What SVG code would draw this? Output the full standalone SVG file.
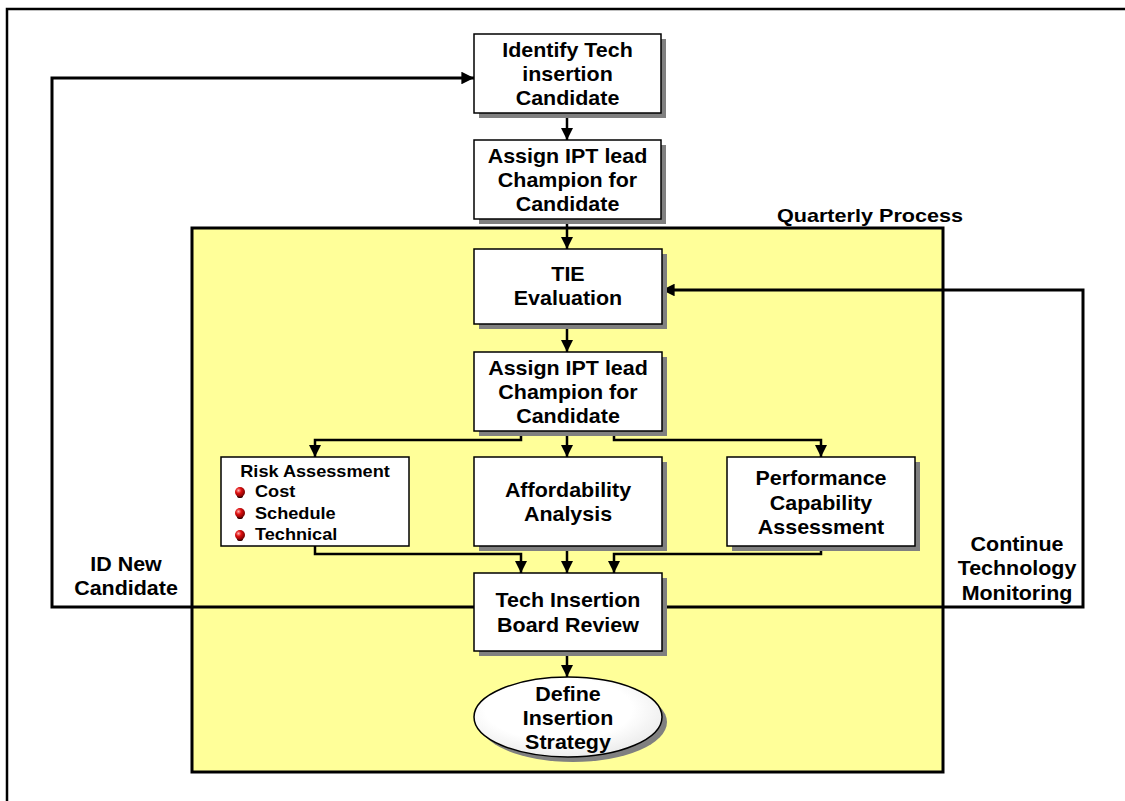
<svg xmlns="http://www.w3.org/2000/svg" width="1125" height="801" viewBox="0 0 1125 801">
<defs>
  <style>
    .box{fill:#fff;stroke:#000;stroke-width:1.5}
    .shadow{fill:#808080}
    .t{font-family:"Liberation Sans",Arial,sans-serif;font-weight:bold;font-size:19.5px;fill:#000;text-anchor:middle}
    .ts{font-family:"Liberation Sans",Arial,sans-serif;font-weight:bold;font-size:16.5px;fill:#000}
    .conn{fill:none;stroke:#000;stroke-width:2.5}
    .loop{fill:none;stroke:#000;stroke-width:3}
  </style>
  <marker id="ah" viewBox="0 0 10 10" refX="10" refY="5" markerWidth="5" markerHeight="5" markerUnits="strokeWidth" orient="auto">
    <path d="M0,0 L10,5 L0,10 Z" fill="#000"/>
  </marker>
  <marker id="ah2" viewBox="0 0 10 10" refX="10" refY="5" markerWidth="4.2" markerHeight="4.2" markerUnits="strokeWidth" orient="auto">
    <path d="M0,0 L10,5 L0,10 Z" fill="#000"/>
  </marker>
  <radialGradient id="ball" cx="0.35" cy="0.35" r="0.7">
    <stop offset="0" stop-color="#ffb0b0"/>
    <stop offset="0.4" stop-color="#e01010"/>
    <stop offset="1" stop-color="#700000"/>
  </radialGradient>
  <radialGradient id="ell" cx="0.45" cy="0.4" r="0.65">
    <stop offset="0.6" stop-color="#ffffff"/>
    <stop offset="1" stop-color="#e8e8e8"/>
  </radialGradient>
  <g id="bullet">
    <ellipse cx="0" cy="4" rx="3" ry="2" fill="#300"/>
    <circle cx="0" cy="0" r="5" fill="url(#ball)"/>
  </g>
</defs>

<rect width="1125" height="801" fill="#fff"/>
<!-- outer frame -->
<path d="M7,801 V9 H1125" fill="none" stroke="#000" stroke-width="2.5"/>

<!-- Quarterly process container -->
<g id="quarterly">
  <rect x="192" y="228" width="751" height="544" fill="#FFFF99" stroke="#000" stroke-width="3"/>
  <g transform="translate(870,0) scale(1.2,1)"><text class="t" style="font-size:18px" x="0" y="222">Quarterly Process</text></g>
</g>

<!-- connectors -->
<g id="connectors">
  <line class="conn" x1="567" y1="113" x2="567" y2="140" marker-end="url(#ah)"/>
  <line class="conn" x1="567" y1="219" x2="567" y2="249" marker-end="url(#ah)"/>
  <line class="conn" x1="567" y1="324" x2="567" y2="352" marker-end="url(#ah)"/>
  <line class="conn" x1="567" y1="431" x2="567" y2="457" marker-end="url(#ah)"/>
  <polyline class="conn" points="521,431 521,440 315,440 315,457" marker-end="url(#ah)"/>
  <polyline class="conn" points="614,431 614,440 821,440 821,457" marker-end="url(#ah)"/>
  <line class="conn" x1="567" y1="546" x2="567" y2="573" marker-end="url(#ah)"/>
  <polyline class="conn" points="315,546 315,554 521,554 521,573" marker-end="url(#ah)"/>
  <polyline class="conn" points="821,546 821,554 614,554 614,573" marker-end="url(#ah)"/>
  <line class="conn" x1="567" y1="651" x2="567" y2="677" marker-end="url(#ah)"/>
  <polyline class="loop" points="474,607 52,607 52,78 474,78" marker-end="url(#ah2)"/>
  <polyline class="loop" points="662,607 1083,607 1083,290 662,290" marker-end="url(#ah2)"/>
</g>

<!-- loop labels -->
<g id="label-new">
  <g transform="translate(126,0) scale(1.1,1)">
    <text class="t" x="0" y="571">ID New</text>
    <text class="t" x="0" y="595">Candidate</text>
  </g>
</g>
<g id="label-continue">
  <g transform="translate(1017,0) scale(1.1,1)">
    <text class="t" x="0" y="551">Continue</text>
    <text class="t" x="0" y="575">Technology</text>
    <text class="t" x="0" y="600">Monitoring</text>
  </g>
</g>

<!-- nodes -->
<g id="identify">
  <rect class="shadow" x="479" y="39" width="187" height="79"/>
  <rect class="box" x="474" y="34" width="187" height="79"/>
  <g transform="translate(567.5,0) scale(1.1,1)">
    <text class="t" x="0" y="57">Identify Tech</text>
    <text class="t" x="0" y="81">insertion</text>
    <text class="t" x="0" y="105">Candidate</text>
  </g>
</g>

<g id="assign1">
  <rect class="shadow" x="479" y="145" width="187" height="79"/>
  <rect class="box" x="474" y="140" width="187" height="79"/>
  <g transform="translate(567.5,0) scale(1.1,1)">
    <text class="t" x="0" y="163">Assign IPT lead</text>
    <text class="t" x="0" y="187">Champion for</text>
    <text class="t" x="0" y="211">Candidate</text>
  </g>
</g>

<g id="tie">
  <rect class="shadow" x="479" y="254" width="188" height="75"/>
  <rect class="box" x="474" y="249" width="188" height="75"/>
  <g transform="translate(568,0) scale(1.1,1)">
    <text class="t" x="0" y="281">TIE</text>
    <text class="t" x="0" y="305">Evaluation</text>
  </g>
</g>

<g id="assign2">
  <rect class="shadow" x="479" y="357" width="188" height="79"/>
  <rect class="box" x="474" y="352" width="188" height="79"/>
  <g transform="translate(568,0) scale(1.1,1)">
    <text class="t" x="0" y="375">Assign IPT lead</text>
    <text class="t" x="0" y="399">Champion for</text>
    <text class="t" x="0" y="423">Candidate</text>
  </g>
</g>

<g id="risk">
  <rect class="box" x="221" y="457" width="188" height="89"/>
  <g transform="translate(315,0) scale(1.1,1)">
    <text class="ts" x="0" y="477" text-anchor="middle">Risk Assessment</text>
  </g>
  <use href="#bullet" x="240" y="492"/>
  <use href="#bullet" x="240" y="513"/>
  <use href="#bullet" x="240" y="535"/>
  <g transform="translate(255,0) scale(1.1,1)">
    <text class="ts" x="0" y="497">Cost</text>
    <text class="ts" x="0" y="519">Schedule</text>
    <text class="ts" x="0" y="540">Technical</text>
  </g>
</g>

<g id="afford">
  <rect class="shadow" x="479" y="462" width="188" height="89"/>
  <rect class="box" x="474" y="457" width="188" height="89"/>
  <g transform="translate(568,0) scale(1.1,1)">
    <text class="t" x="0" y="497">Affordability</text>
    <text class="t" x="0" y="521">Analysis</text>
  </g>
</g>

<g id="perf">
  <rect class="shadow" x="732" y="462" width="188" height="89"/>
  <rect class="box" x="727" y="457" width="188" height="89"/>
  <g transform="translate(821,0) scale(1.1,1)">
    <text class="t" x="0" y="485">Performance</text>
    <text class="t" x="0" y="510">Capability</text>
    <text class="t" x="0" y="534">Assessment</text>
  </g>
</g>

<g id="board">
  <rect class="shadow" x="479" y="578" width="188" height="78"/>
  <rect class="box" x="474" y="573" width="188" height="78"/>
  <g transform="translate(568,0) scale(1.1,1)">
    <text class="t" x="0" y="607">Tech Insertion</text>
    <text class="t" x="0" y="632">Board Review</text>
  </g>
</g>

<g id="define">
  <ellipse cx="573" cy="722" rx="94" ry="40" fill="#808080"/>
  <ellipse cx="568" cy="717" rx="94" ry="40" fill="url(#ell)" stroke="#000" stroke-width="1.5"/>
  <g transform="translate(568,0) scale(1.1,1)">
    <text class="t" x="0" y="701">Define</text>
    <text class="t" x="0" y="725">Insertion</text>
    <text class="t" x="0" y="749">Strategy</text>
  </g>
</g>
</svg>
